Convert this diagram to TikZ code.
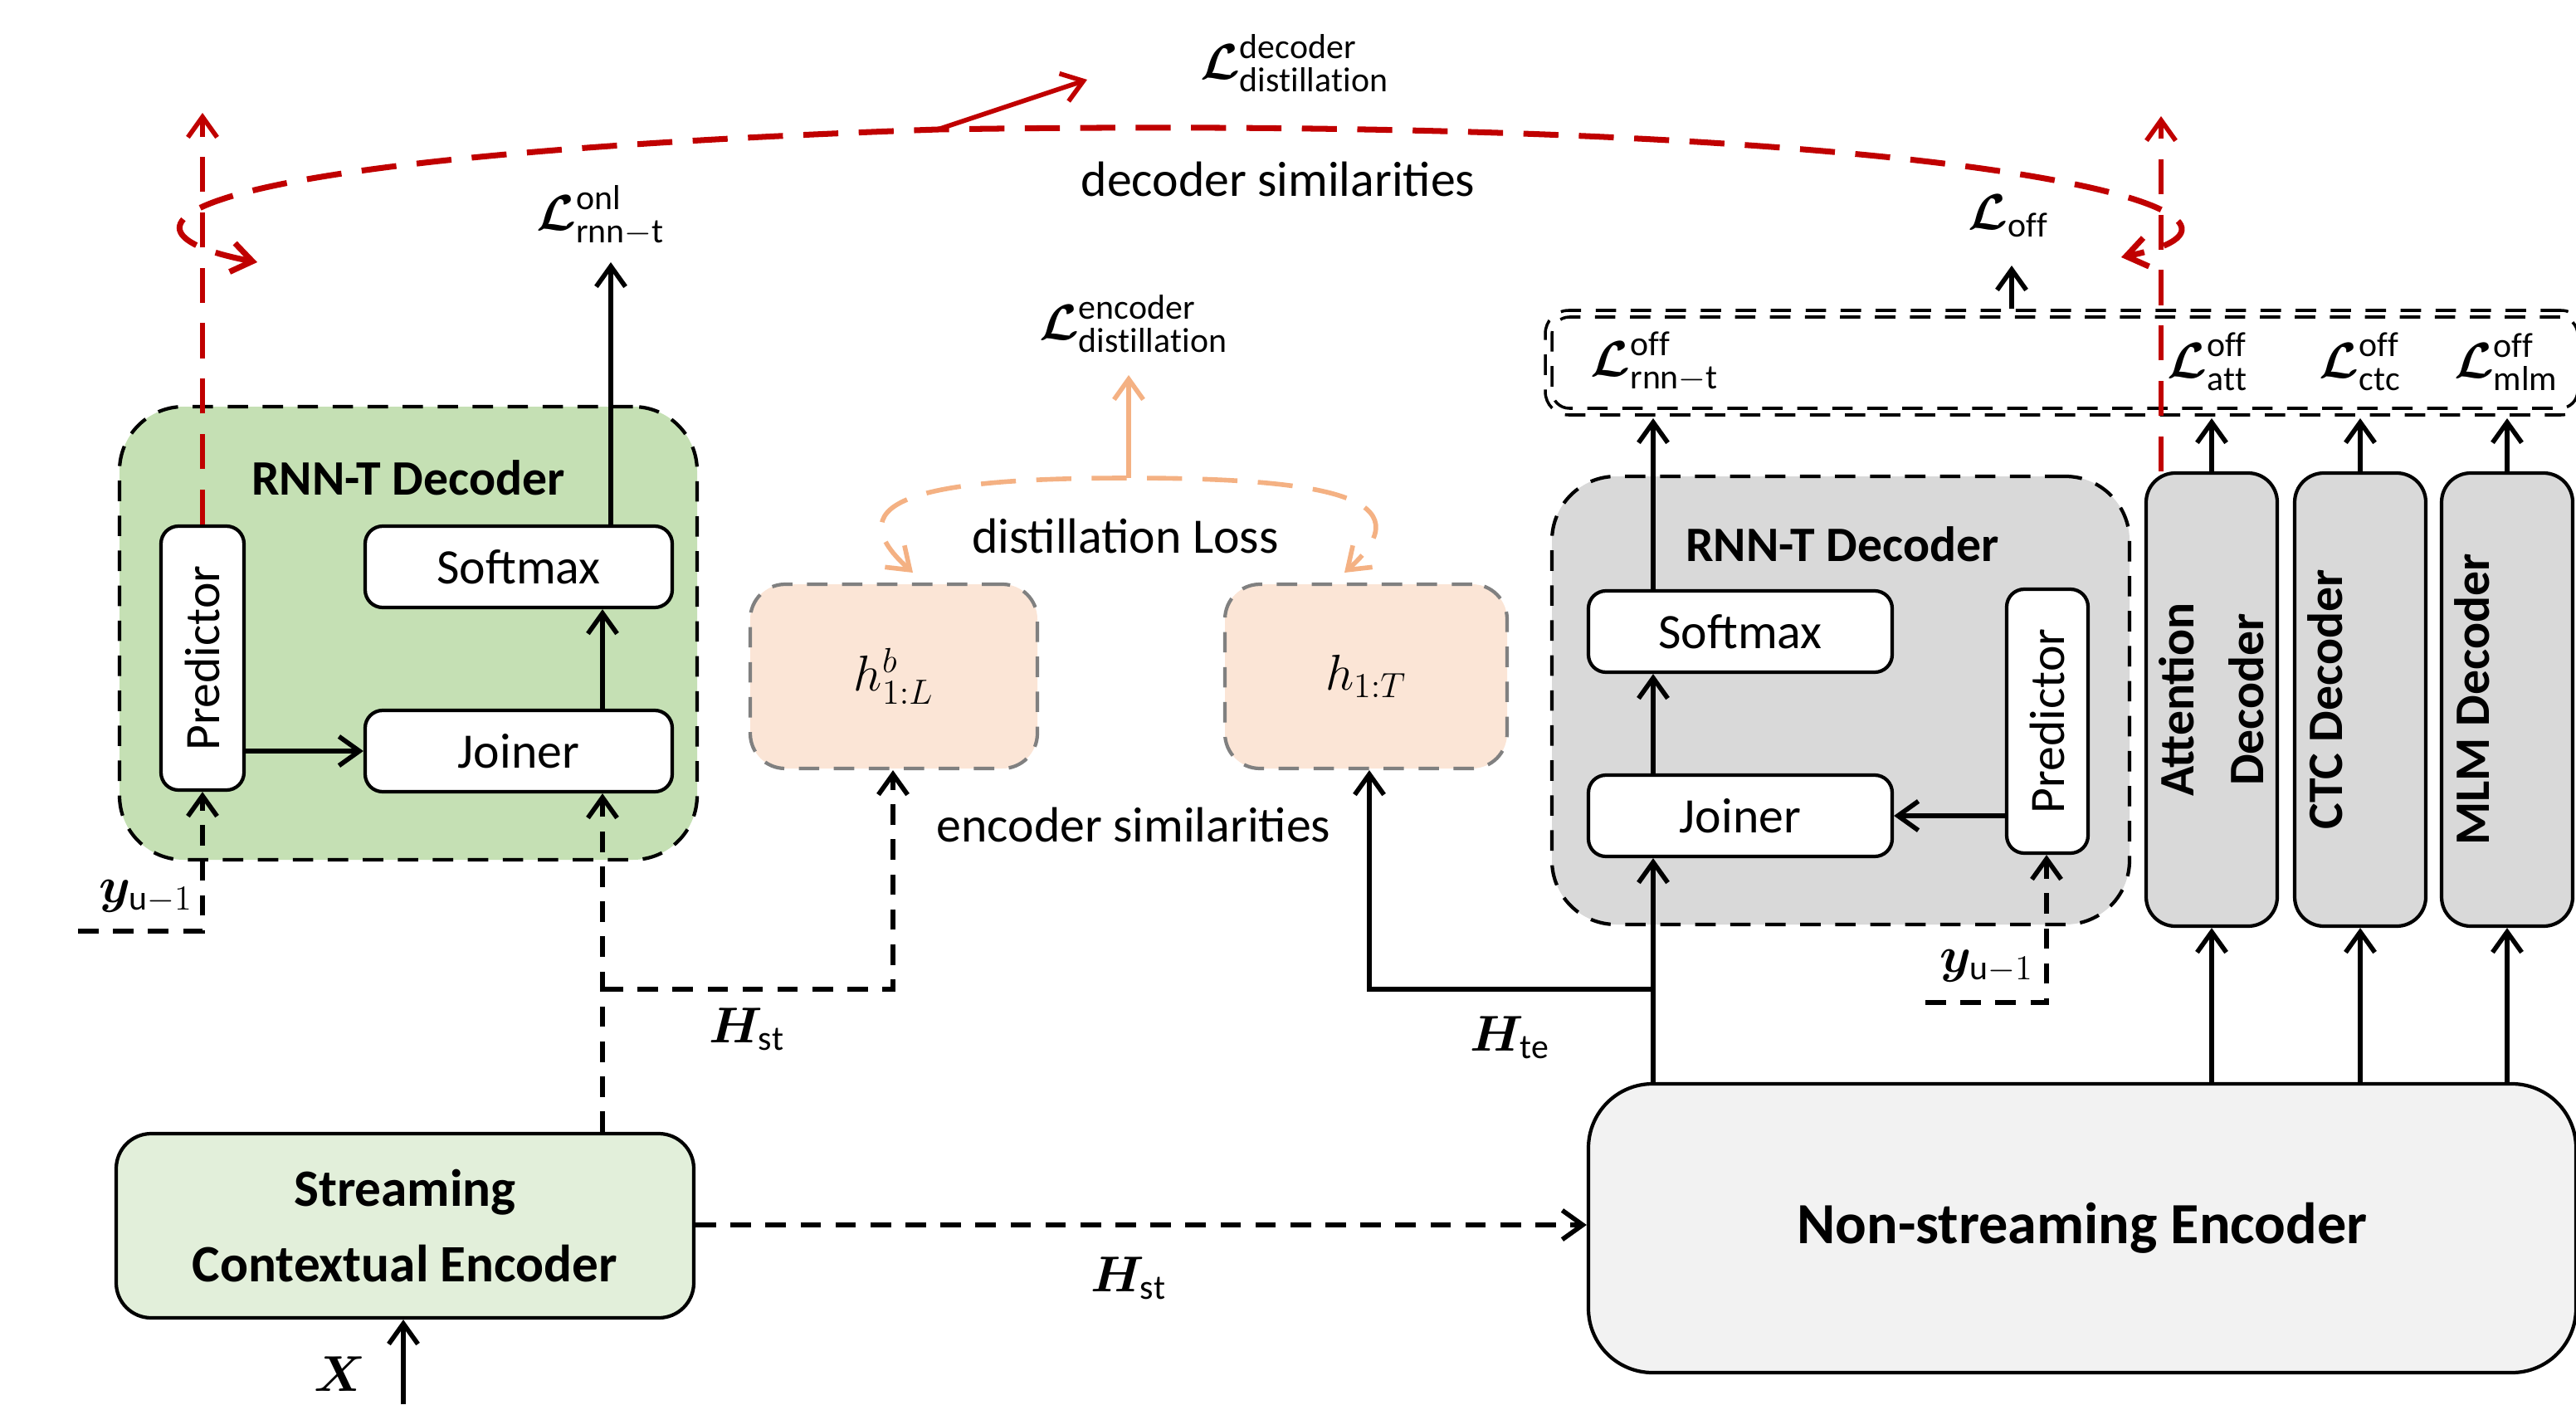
\documentclass[tikz,border=0pt]{standalone}
\usepackage{fontspec}
\usepackage{amsmath,bm}
\setmainfont{Carlito}
\usetikzlibrary{arrows.meta}
\definecolor{grnd}{HTML}{C5E0B4}
\definecolor{grnl}{HTML}{E2EFDA}
\definecolor{peach}{HTML}{FBE5D6}
\definecolor{orng}{HTML}{F4B183}
\definecolor{gryd}{HTML}{D9D9D9}
\definecolor{gryl}{HTML}{F2F2F2}
\definecolor{redd}{HTML}{C00000}
\newcommand{\Lx}[2]{$\bm{\mathcal{L}}^{\mathrm{#1}}_{\mathrm{#2}}$}
\tikzset{
  dashed/.style={dash pattern=on 7pt off 5pt},
  rdash/.style={dash pattern=on 12pt off 7pt},
  blk/.style={draw, rounded corners=6pt, fill=white, line width=1.2pt, inner sep=0pt},
  grp/.style={draw, dashed, rounded corners=22pt, line width=1.2pt},
  arr/.style={-{Straight Barb[length=7pt,width=10pt]}, line width=1.6pt},
  lbl/.style={font=\fontsize{17}{20}\selectfont},
}
\begin{document}
\begin{tikzpicture}[x=0.02cm,y=-0.02cm]
	\useasboundingbox (0,0) rectangle (1552,846.5);
	
	% online (student) side
	\node[grp, fill=grnd, minimum width=348*0.02cm, minimum height=273*0.02cm] (sdec) at (246,381.5) {};
	\node[lbl, font=\fontsize{17}{20}\selectfont\bfseries] at (246,288) {RNN-T Decoder};
	\node[blk, minimum width=50*0.02cm, minimum height=159*0.02cm] (spred) at (122,396.5) {};
	\node[lbl, rotate=90] at (spred) {Predictor};
	\node[blk, lbl, minimum width=185*0.02cm, minimum height=49*0.02cm] (ssoft) at (312.5,341.5) {Softmax};
	\node[blk, lbl, minimum width=185*0.02cm, minimum height=49*0.02cm] (sjoin) at (312.5,452.5) {Joiner};
	\node[lbl] (lonl) at (362,130) {\Lx{onl}{rnn{-}t}};
	\draw[arr] (spred.east |- sjoin) -- (sjoin.west);
	\draw[arr] (sjoin.north -| 363,0) -- (ssoft.south -| 363,0);
	\draw[arr] (ssoft.north -| 368,0) -- (368,158);
	
	\node[draw, rounded corners=12pt, fill=grnl, line width=1.2pt, minimum width=348*0.02cm, minimum height=111*0.02cm, align=center, font=\fontsize{18}{26}\selectfont\bfseries] (senc) at (244,738.5) {Streaming\\Contextual Encoder};
	\node[lbl] (xin) at (205,828) {$\bm{X}$};
	\coordinate (xbot) at (243,846);
	\draw[arr] (xbot) -- (senc.south -| xbot);
	
	\node[lbl] (yu1) at (88,540) {$\bm{y}_{\mathrm{u}-1}$};
	\coordinate (yu1a) at (47,561);
	\draw[arr, dashed] (yu1a) -- (122,561) -- (spred.south);
	
	\coordinate (hst1) at (363,596);
	\draw[arr, dashed] (senc.north -| hst1) -- (sjoin.south -| hst1);
	\node[lbl] (hstl) at (450,620) {$\bm{H}_{\mathrm{st}}$};
	
	% encoder distillation
	\node[draw, dashed, gray, rounded corners=12pt, fill=peach, line width=1.2pt, minimum width=173*0.02cm, minimum height=111*0.02cm, text=black, font=\fontsize{18}{20}\selectfont] (hb) at (538.5,407.5) {$h^{b}_{1:L}$};
	\node[draw, dashed, gray, rounded corners=12pt, fill=peach, line width=1.2pt, minimum width=170*0.02cm, minimum height=111*0.02cm, text=black, font=\fontsize{18}{20}\selectfont] (ht) at (823,407.5) {$h_{1:T}$};
	\draw[arr, dashed] (hst1) -- (538,596) -- (hb.south -| 538,0);
	\node[lbl] (encsim) at (683,497) {encoder similarities};
	\node[lbl] (dloss) at (678,323) {distillation Loss};
	\draw[arr, rdash, orng, {Straight Barb[length=7pt,width=10pt]}-{Straight Barb[length=7pt,width=10pt]}] (550,345) .. controls (500,300) and (560,288) .. (680,288) .. controls (800,288) and (860,300) .. (810,345);
	\node[lbl] (lenc) at (683,195) {\Lx{encoder}{distillation}};
	\draw[arr, orng] (680,288) -- (680,226);
	
	% offline (teacher) side
	\node[draw, rounded corners=22pt, fill=gryl, line width=1.2pt, minimum width=595*0.02cm, minimum height=174*0.02cm, font=\fontsize{20}{24}\selectfont\bfseries] (nenc) at (1254.5,740) {Non-streaming Encoder};
	\draw[arr, dashed] (senc.east |- 0,738) -- (nenc.west |- 0,738);
	\node[lbl] (hst2) at (680,770) {$\bm{H}_{\mathrm{st}}$};
	
	\node[grp, fill=gryd, minimum width=348*0.02cm, minimum height=270*0.02cm] (tdec) at (1109,422) {};
	\node[font=\fontsize{17}{20}\selectfont\bfseries] at (1110,328) {RNN-T Decoder};
	\node[blk, lbl, minimum width=183*0.02cm, minimum height=49*0.02cm] (tsoft) at (1048.5,380.5) {Softmax};
	\node[blk, lbl, minimum width=183*0.02cm, minimum height=49*0.02cm] (tjoin) at (1048.5,491.5) {Joiner};
	\node[blk, minimum width=49*0.02cm, minimum height=159*0.02cm] (tpred) at (1233.5,434.5) {};
	\node[lbl, rotate=90] at (tpred) {Predictor};
	\draw[arr] (tpred.west |- tjoin) -- (tjoin.east);
	\draw[arr] (tjoin.north -| 996,0) -- (tsoft.south -| 996,0);
	\draw[arr] (nenc.north -| 996,0) -- (tjoin.south -| 996,0);
	\draw[arr] (996,596) -- (825,596) -- (ht.south -| 825,0);
	\node[lbl] (hte) at (910,625) {$\bm{H}_{\mathrm{te}}$};
	\node[lbl] (yu2) at (1197,582) {$\bm{y}_{\mathrm{u}-1}$};
	\coordinate (yu2a) at (1160,604);
	\draw[arr, dashed] (yu2a) -- (1233,604) -- (tpred.south -| 1233,0);
	
	\foreach \nm/\x/\ta/\tb in {att/1332.5/Attention/Decoder, ctc/1422/CTC Decoder/, mlm/1510.5/MLM Decoder/} {
		\node[draw, rounded corners=10pt, fill=gryd, line width=1.2pt, minimum width=79*0.02cm, minimum height=273*0.02cm] (\nm) at (\x,421.5) {};
		\node[rotate=90, align=center, font=\fontsize{17}{24}\selectfont\bfseries] at (\nm) {\ta\\\tb};
		\draw[arr] (nenc.north -| \nm) -- (\nm.south);
		\draw[arr] (\nm.north) -- (\x,252);
	}
	
	% offline losses
	\node[draw, dashed, rounded corners=8pt, line width=1pt, minimum width=626*0.02cm, minimum height=63*0.02cm] (offbox) at (1244,218.5) {};
	\node[draw, dashed, rounded corners=6pt, line width=1pt, minimum width=618*0.02cm, minimum height=55*0.02cm] at (1244,218.5) {};
	\node[lbl] at (997,218) {\Lx{off}{rnn{-}t}};
	\node[lbl] at (1330,218) {\Lx{off}{att}};
	\node[lbl] at (1422,218) {\Lx{off}{ctc}};
	\node[lbl] at (1510,218) {\Lx{off}{mlm}};
	\draw[arr] (tsoft.north -| 996,0) -- (996,252);
	\node[lbl] (loff) at (1210,130) {$\bm{\mathcal{L}}_{\mathrm{off}}$};
	\draw[arr] (offbox.north -| 1212,0) -- (1212,160);
	
	% decoder distillation
	\draw[arr, rdash, redd] (spred.north) -- (122,68);
	\draw[arr, rdash, redd] (att.north -| 1302,0) -- (1302,70);
	\draw[arr, rdash, redd, line width=2pt, {Straight Barb[length=7pt,width=10pt]}-{Straight Barb[length=7pt,width=10pt]}] (155,158) .. controls (60,140) and (80,95) .. (565,78) .. controls (1200,68) and (1400,130) .. (1278,155);
	\draw[arr, redd] (565,78) -- (655,48);
	\node[lbl] (ldec) at (780,38) {\Lx{decoder}{distillation}};
	\node[lbl] (decsim) at (770,108) {decoder similarities};
\end{tikzpicture}
\end{document}
